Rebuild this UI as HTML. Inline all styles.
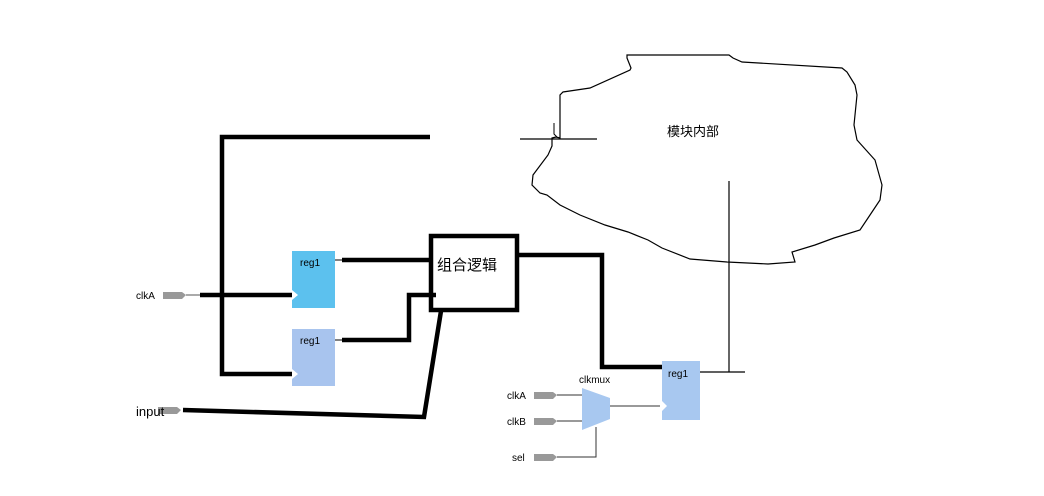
<!DOCTYPE html>
<html><head><meta charset="utf-8"><style>
html,body{margin:0;padding:0;background:#fff;}
svg{display:block;}
text{font-family:"Liberation Sans","Noto Sans CJK SC",sans-serif;}
</style></head><body>
<svg width="1044" height="496" viewBox="0 0 1044 496" xmlns="http://www.w3.org/2000/svg">
<rect width="1044" height="496" fill="#fff"/>
<!-- cloud -->
<polyline fill="none" stroke="#000" stroke-width="1.2" points="556,137 560,138 560,95 563,92 590,88 630,70 631,68 627,58 627,55 729,55 733,58 742,62 842,68 847,72 855,85 857,95 854,125 857,140 875,160 882,185 880,200 868,218 860,230 834,238 815,245 792,252 795,262 768,264 727,262 690,259 662,248 648,240 628,232 605,225 580,215 560,205 547,195 540,193 532,185 533,175 548,155 552,146 552,138 556,137"/>
<polyline fill="none" stroke="#000" stroke-width="1" points="554,123 554,134 557,137"/>
<line x1="520" y1="139" x2="597" y2="139" stroke="#000" stroke-width="1.2"/>
<text x="667" y="136" font-size="13" fill="#000">模块内部</text>
<line x1="729" y1="181" x2="729" y2="372" stroke="#000" stroke-width="1.2"/>
<line x1="700" y1="372" x2="745" y2="372" stroke="#000" stroke-width="1.2"/>
<!-- thick wires -->
<g fill="none" stroke="#000" stroke-width="4.5">
<polyline points="430,137 222,137 222,374 292,374"/>
<line x1="200" y1="295" x2="292" y2="295"/>
<line x1="342" y1="260" x2="430" y2="260"/>
<polyline points="342,340 409,340 409,295 436,295"/>
<polyline points="183,410 424,417 441,311"/>
<polyline points="517,255 602,255 602,367 662,367"/>
<rect x="431" y="236" width="86" height="74"/>
</g>
<line x1="335" y1="260" x2="342" y2="260" stroke="#000" stroke-width="1"/>
<line x1="335" y1="340" x2="342" y2="340" stroke="#000" stroke-width="1"/>
<text x="437" y="270" font-size="15" fill="#000">组合逻辑</text>
<!-- regs -->
<rect x="292" y="251" width="43" height="57" fill="#5cc1ee"/>
<polygon points="292,290 298,295 292,300" fill="#fff"/>
<text x="300" y="266" font-size="10" fill="#000">reg1</text>
<rect x="292" y="329" width="43" height="57" fill="#a8c4ee"/>
<polygon points="292,369 298,374 292,379" fill="#fff"/>
<text x="300" y="344" font-size="10" fill="#000">reg1</text>
<rect x="662" y="361" width="38" height="59" fill="#a8c8f0"/>
<polygon points="662,401 667,406 662,411" fill="#fff"/>
<text x="668" y="377" font-size="10" fill="#000">reg1</text>
<!-- pins -->
<g fill="#999">
<polygon points="163,292 182,292 186,295 182,299 163,299"/>
<polygon points="158,407 177,407 181,410 177,414 158,414"/>
<polygon points="534,392 553,392 557,395 553,399 534,399"/>
<polygon points="534,418 553,418 557,421 553,425 534,425"/>
<polygon points="534,454 553,454 557,457 553,461 534,461"/>
</g>
<line x1="186" y1="295" x2="200" y2="295" stroke="#555" stroke-width="1"/>
<text x="136" y="299" font-size="10" fill="#000">clkA</text>
<text x="136" y="416" font-size="13" fill="#000">input</text>
<text x="507" y="399" font-size="10" fill="#000">clkA</text>
<text x="507" y="425" font-size="10" fill="#000">clkB</text>
<text x="512" y="461" font-size="10" fill="#000">sel</text>
<!-- mux -->
<g stroke="#333" stroke-width="1" fill="none">
<line x1="557" y1="395" x2="582" y2="395"/>
<line x1="557" y1="421" x2="582" y2="421"/>
<polyline points="557,457 596,457 596,427"/>
<line x1="610" y1="406" x2="660" y2="406"/>
</g>
<polygon points="582,388 610,398 610,419 582,430" fill="#a8c8f0"/>
<text x="579" y="383" font-size="10" fill="#000">clkmux</text>
</svg>
</body></html>
